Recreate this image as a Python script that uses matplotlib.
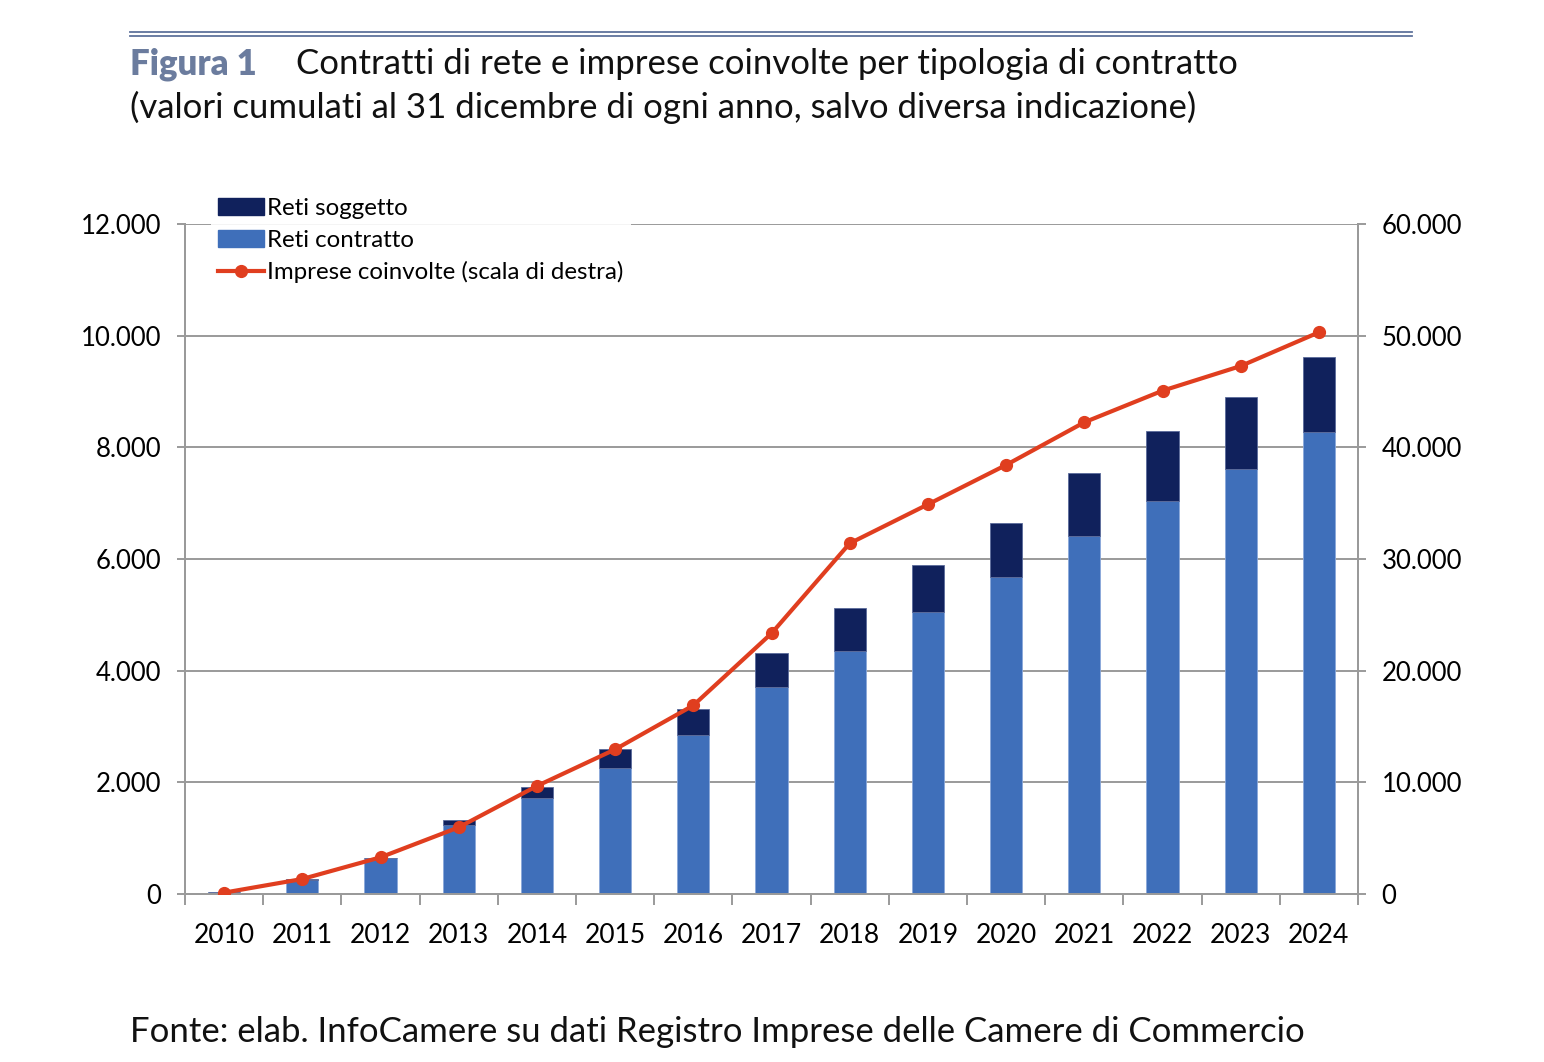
import numpy as np
import matplotlib
matplotlib.use("Agg")
import matplotlib.pyplot as plt
from matplotlib.ticker import FuncFormatter, FixedLocator
from matplotlib.lines import Line2D

plt.rcParams['font.family'] = ['Lato', 'DejaVu Sans']

# dati
anni = [str(a) for a in range(2010, 2025)]
reti_contratto = [30, 258, 638, 1242, 1713, 2257, 2848, 3708, 4352, 5045, 5678, 6418, 7045, 7607, 8270]
reti_soggetto = [3, 5, 8, 78, 209, 340, 460, 603, 776, 848, 967, 1117, 1242, 1301, 1354]
imprese = [120, 1343, 3284, 5970, 9671, 12950, 16890, 23340, 31400, 34890, 38420, 42240, 45070, 47280, 50300]

blu = '#3f6fba'
navy = '#10215c'
rosso = '#e03e1f'
grigio = '#9a9a9a'

W, H = 1544, 1062
fig = plt.figure(figsize=(W / 100, H / 100), dpi=100)
ax = fig.add_axes([185 / W, 1 - 894 / H, (1358 - 185) / W, 670 / H])
ax2 = ax.twinx()

x = np.arange(len(anni))
ax.bar(x, reti_contratto, width=0.41, color=blu, edgecolor='#8aa8da', linewidth=0.6, zorder=3)
ax.bar(x, reti_soggetto, width=0.41, bottom=reti_contratto, color=navy,
       edgecolor='#5a6a9a', linewidth=0.6, zorder=3)
ax2.plot(x, imprese, color=rosso, lw=3, marker='o', ms=8.5, zorder=4)

ax.set_xlim(-0.5, len(anni) - 0.5)
ax.set_ylim(0, 12000)
ax2.set_ylim(0, 60000)

fmt = FuncFormatter(lambda v, p: f"{int(v):,}".replace(',', '.'))
ax.set_yticks(np.arange(0, 12001, 2000))
ax2.set_yticks(np.arange(0, 60001, 10000))
ax.yaxis.set_major_formatter(fmt)
ax2.yaxis.set_major_formatter(fmt)

ax.yaxis.grid(True, color=grigio, lw=1.4, zorder=0)
ax.set_axisbelow(True)

# tick x: separatori ai confini, etichette al centro
ax.xaxis.set_major_locator(FixedLocator(np.arange(-0.5, len(anni), 1.0)))
ax.xaxis.set_major_formatter(FuncFormatter(lambda v, p: ''))
ax.xaxis.set_minor_locator(FixedLocator(x))
ax.set_xticklabels(anni, minor=True)
ax.tick_params(axis='x', which='major', length=8, width=1.4, color=grigio, direction='out')
ax.tick_params(axis='x', which='minor', length=0, pad=21, labelsize=19)
ax.tick_params(axis='y', length=6, width=1.4, color=grigio, pad=11, labelsize=18.5)
ax2.tick_params(axis='y', length=6, width=1.4, color=grigio, pad=11, labelsize=18.5)

for a in (ax, ax2):
    a.spines['top'].set_visible(False)
    for s in ('left', 'right', 'bottom'):
        a.spines[s].set_color(grigio)
        a.spines[s].set_linewidth(1.4)

# legenda
handles = [
    plt.Rectangle((0, 0), 1, 1, color=navy),
    plt.Rectangle((0, 0), 1, 1, color=blu),
    Line2D([0], [0], color=rosso, lw=3, marker='o', ms=8.5),
]
labels = ['Reti soggetto', 'Reti contratto', 'Imprese coinvolte (scala di destra)']
leg = ax2.legend(handles, labels, loc='upper left', bbox_to_anchor=(211 / W, 1 - 191 / H),
                 bbox_transform=fig.transFigure, fontsize=17.3, frameon=True, fancybox=False,
                 facecolor='white', edgecolor='none', framealpha=0.9,
                 labelspacing=0.43, handlelength=1.9, handletextpad=0.15, borderpad=0.3,
                 borderaxespad=0)
leg.set_zorder(10)

# intestazione
for yy in (32, 36):
    fig.add_artist(Line2D([130 / W, 1412 / W], [1 - yy / H, 1 - yy / H],
                          color='#5f739c', lw=1.3))
fig.text(130 / W, 1 - 74 / H, 'Figura 1', fontsize=25, fontweight='heavy', color='#6b7c9e',
         va='baseline', ha='left')
fig.text(296 / W, 1 - 74 / H, 'Contratti di rete e imprese coinvolte per tipologia di contratto',
         fontsize=25, va='baseline', ha='left', color='#111111')
fig.text(130 / W, 1 - 118 / H,
         '(valori cumulati al 31 dicembre di ogni anno, salvo diversa indicazione)',
         fontsize=25, va='baseline', ha='left', color='#111111')
fig.text(130 / W, 1 - 1042 / H,
         'Fonte: elab. InfoCamere su dati Registro Imprese delle Camere di Commercio',
         fontsize=25, va='baseline', ha='left', color='#111111')

fig.savefig('out.png', dpi=100)
